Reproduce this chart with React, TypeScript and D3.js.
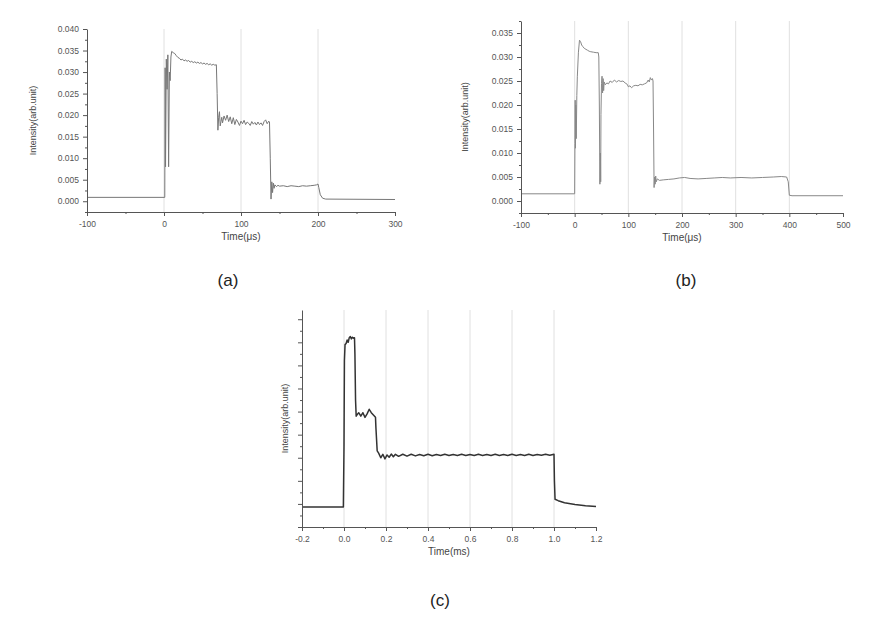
import * as d3 from "d3";
import { useEffect, useRef } from "react";

type Pt = [number, number];

// (a) intensity vs time (µs)
const seriesA: Pt[] = [
  [-100, 0.0009], [1, 0.0009], [1.5, 0.031], [2, 0.008], [3, 0.033], [4, 0.026],
  [5, 0.034], [6, 0.008], [7, 0.03], [8, 0.028], [9, 0.0335], [10, 0.0348],
  [12, 0.0345], [14, 0.0343], [16, 0.0338], [18, 0.0334], [20, 0.0332], [22, 0.0328],
  [24, 0.033], [26, 0.0326], [28, 0.0328], [30, 0.0325], [32, 0.0327], [34, 0.0323],
  [36, 0.0325], [38, 0.0322], [40, 0.0324], [42, 0.0321], [44, 0.0323], [46, 0.032],
  [48, 0.0322], [50, 0.0319], [52, 0.0321], [54, 0.0318], [56, 0.032], [58, 0.0317],
  [60, 0.0319], [62, 0.0316], [64, 0.0318], [66, 0.0316], [68, 0.0317],
  [69, 0.025], [70, 0.0165], [71, 0.0195], [72, 0.0208], [73, 0.0175], [74, 0.0185],
  [75, 0.0195], [76, 0.0182], [78, 0.0198], [80, 0.0188], [82, 0.02], [84, 0.0185],
  [86, 0.0196], [88, 0.018], [90, 0.0194], [92, 0.0178], [94, 0.019], [96, 0.0184],
  [98, 0.0176], [100, 0.0186], [102, 0.018], [104, 0.0188], [106, 0.0178], [108, 0.0184],
  [110, 0.0181], [112, 0.0176], [114, 0.0185], [116, 0.0179], [118, 0.0183], [120, 0.0177],
  [122, 0.0184], [124, 0.0178], [126, 0.0182], [128, 0.0176], [130, 0.0185], [132, 0.0189],
  [134, 0.018], [136, 0.0186], [137, 0.0184],
  [138, 0.01], [139, 0.0005], [140, 0.0045], [141, 0.002], [142, 0.0042], [143, 0.003],
  [144, 0.0038], [146, 0.0034], [148, 0.0037], [150, 0.0035], [155, 0.0036], [160, 0.0034],
  [165, 0.0036], [170, 0.0035], [175, 0.0034], [180, 0.0036], [185, 0.0035], [190, 0.0036],
  [195, 0.0037], [198, 0.0038], [200, 0.004], [201, 0.0032], [203, 0.0015], [206, 0.0007],
  [210, 0.0005], [300, 0.0004],
];

// (b) intensity vs time (µs)
const seriesB: Pt[] = [
  [-100, 0.0015], [0, 0.0015], [0.5, 0.012], [1, 0.021], [1.5, 0.011], [2, 0.02],
  [3, 0.013], [4, 0.022], [5, 0.026], [7, 0.031], [9, 0.0335], [11, 0.0332],
  [13, 0.0325], [15, 0.0322], [18, 0.0318], [21, 0.0316], [24, 0.0314], [27, 0.0312],
  [30, 0.0311], [35, 0.031], [40, 0.0309], [44, 0.0309], [45, 0.03], [46, 0.02],
  [47, 0.0035], [48, 0.01], [48.5, 0.004], [49, 0.018], [50, 0.0245], [51, 0.026],
  [52, 0.0225], [53, 0.0255], [54, 0.023], [55, 0.0248], [57, 0.0242], [60, 0.0246],
  [63, 0.0244], [66, 0.025], [70, 0.0247], [74, 0.0252], [78, 0.0248], [82, 0.0251],
  [86, 0.0249], [90, 0.025], [94, 0.0246], [98, 0.0243], [100, 0.0238], [103, 0.024],
  [106, 0.0236], [110, 0.024], [114, 0.0241], [118, 0.024], [122, 0.0243], [126, 0.0242],
  [130, 0.0244], [134, 0.0246], [137, 0.0252], [139, 0.0248], [141, 0.0257], [143, 0.0252],
  [145, 0.0255], [146, 0.025], [147, 0.015], [148, 0.0028], [149, 0.005], [150, 0.0035],
  [151, 0.0052], [152, 0.004], [154, 0.0046], [158, 0.0043], [165, 0.0044], [175, 0.0045],
  [185, 0.0046], [195, 0.0048], [205, 0.0049], [215, 0.0047], [230, 0.0046], [245, 0.0047],
  [260, 0.0048], [275, 0.0049], [290, 0.0048], [310, 0.0049], [330, 0.0048], [350, 0.0049],
  [370, 0.005], [385, 0.0051], [395, 0.005], [398, 0.004], [400, 0.0012], [405, 0.0011],
  [500, 0.0011],
];

// (c) intensity (unlabelled axis) vs time (ms)
const seriesC: Pt[] = [
  [-0.2, 0.87], [-0.003, 0.87], [-0.002, 1.8], [0, 3.5], [0.002, 7.2], [0.005, 7.9],
  [0.01, 7.95], [0.015, 8.1], [0.02, 8.0], [0.025, 8.2], [0.03, 8.25], [0.035, 8.15],
  [0.04, 8.22], [0.045, 8.18], [0.05, 8.2], [0.052, 7.5], [0.055, 5.5], [0.058, 4.8],
  [0.065, 4.9], [0.07, 4.95], [0.08, 4.8], [0.09, 4.95], [0.1, 4.75], [0.11, 4.9],
  [0.12, 5.1], [0.13, 4.95], [0.14, 4.85], [0.15, 4.75], [0.152, 4.3], [0.158, 3.3],
  [0.165, 3.2], [0.175, 3.0], [0.185, 3.15], [0.195, 2.95], [0.205, 3.12], [0.215, 3.02],
  [0.225, 3.16], [0.235, 3.04], [0.245, 3.15], [0.26, 3.06], [0.28, 3.15], [0.3, 3.07],
  [0.32, 3.15], [0.34, 3.08], [0.36, 3.14], [0.38, 3.09], [0.4, 3.15], [0.42, 3.09],
  [0.44, 3.14], [0.46, 3.1], [0.48, 3.15], [0.5, 3.1], [0.52, 3.14], [0.54, 3.1],
  [0.56, 3.15], [0.58, 3.1], [0.6, 3.14], [0.62, 3.1], [0.64, 3.15], [0.66, 3.1],
  [0.68, 3.14], [0.7, 3.1], [0.72, 3.15], [0.74, 3.1], [0.76, 3.14], [0.78, 3.1],
  [0.8, 3.15], [0.82, 3.1], [0.84, 3.14], [0.86, 3.1], [0.88, 3.15], [0.9, 3.1],
  [0.92, 3.14], [0.94, 3.11], [0.96, 3.15], [0.98, 3.11], [1.0, 3.15], [1.002, 2.0],
  [1.005, 1.2], [1.02, 1.14], [1.05, 1.05], [1.1, 0.97], [1.15, 0.92], [1.2, 0.89],
];

const xTicksA = [-100, 0, 100, 200, 300];
const xMinorA = [-50, 50, 150, 250];
const yTicksA = [0, 0.005, 0.01, 0.015, 0.02, 0.025, 0.03, 0.035, 0.04];
const yMinorA = [-0.0025, 0.0025, 0.0075, 0.0125, 0.0175, 0.0225, 0.0275, 0.0325, 0.0375];
const gridA = [0, 100, 200];

const xTicksB = [-100, 0, 100, 200, 300, 400, 500];
const xMinorB = [-50, 50, 150, 250, 350, 450];
const yTicksB = [0, 0.005, 0.01, 0.015, 0.02, 0.025, 0.03, 0.035];
const yMinorB = [-0.0025, 0.0025, 0.0075, 0.0125, 0.0175, 0.0225, 0.0275, 0.0325, 0.0375];
const gridB = [0, 100, 200, 300, 400];

const xTicksC = [-0.2, 0, 0.2, 0.4, 0.6, 0.8, 1.0, 1.2];
const xMinorC = [-0.1, 0.1, 0.3, 0.5, 0.7, 0.9, 1.1];
const yTicksC = [0, 1, 2, 3, 4, 5, 6, 7, 8, 9];
const yMinorC = [0.5, 1.5, 2.5, 3.5, 4.5, 5.5, 6.5, 7.5, 8.5];
const gridC = [0, 0.2, 0.4, 0.6, 0.8, 1.0];

interface Panel {
  left: number; right: number; top: number; bottom: number;
  xDomain: [number, number]; yDomain: [number, number];
  xTicks: number[]; xMinor: number[]; yTicks: number[]; yMinor: number[];
  grid: number[];
  xFormat: (v: number) => string;
  yFormat: ((v: number) => string) | null;
  xLabel: string;
  yLabelOffset: number;
  data: Pt[];
  stroke: string; strokeWidth: number;
  caption: string; captionX: number; captionY: number;
}

// plain hyphen minus, as in the original figure
const fmtInt = (v: number) => String(Math.round(v));
const fmt1 = (v: number) => v.toFixed(1);
const fmt3 = (v: number) => v.toFixed(3);

const panels: Panel[] = [
  {
    left: 87, right: 395, top: 29, bottom: 212,
    xDomain: [-100, 300], yDomain: [-0.0025, 0.04],
    xTicks: xTicksA, xMinor: xMinorA, yTicks: yTicksA, yMinor: yMinorA, grid: gridA,
    xFormat: fmtInt, yFormat: fmt3,
    xLabel: "Time(μs)", yLabelOffset: -54,
    data: seriesA, stroke: "#777", strokeWidth: 1,
    caption: "(a)", captionX: 228, captionY: 286,
  },
  {
    left: 521, right: 843, top: 21, bottom: 213,
    xDomain: [-100, 500], yDomain: [-0.0025, 0.0375],
    xTicks: xTicksB, xMinor: xMinorB, yTicks: yTicksB, yMinor: yMinorB, grid: gridB,
    xFormat: fmtInt, yFormat: fmt3,
    xLabel: "Time(μs)", yLabelOffset: -56,
    data: seriesB, stroke: "#888", strokeWidth: 1,
    caption: "(b)", captionX: 686, captionY: 286,
  },
  {
    left: 302, right: 596, top: 310, bottom: 527,
    xDomain: [-0.2, 1.2], yDomain: [0, 9.4],
    xTicks: xTicksC, xMinor: xMinorC, yTicks: yTicksC, yMinor: yMinorC, grid: gridC,
    xFormat: fmt1, yFormat: null,
    xLabel: "Time(ms)", yLabelOffset: -17,
    data: seriesC, stroke: "#333", strokeWidth: 1.5,
    caption: "(c)", captionX: 440, captionY: 606,
  },
];

const FONT = "'Liberation Sans', Arial, sans-serif";

export default function App() {
  const svgRef = useRef<SVGSVGElement>(null);

  useEffect(() => {
    if (!svgRef.current) return;
    const svg = d3.select(svgRef.current);
    svg.selectAll("*").remove();

    panels.forEach((p) => {
      const x = d3.scaleLinear().domain(p.xDomain).range([p.left, p.right]);
      const y = d3.scaleLinear().domain(p.yDomain).range([p.bottom, p.top]);
      const g = svg.append("g");

      // vertical grid lines
      g.selectAll(".grid")
        .data(p.grid)
        .enter()
        .append("line")
        .attr("x1", (d) => x(d))
        .attr("x2", (d) => x(d))
        .attr("y1", p.top)
        .attr("y2", p.bottom)
        .attr("stroke", "#e0e0e0")
        .attr("stroke-width", 1);

      // trace
      const line = d3
        .line<Pt>()
        .x((d) => x(d[0]))
        .y((d) => y(d[1]));
      g.append("path")
        .datum(p.data)
        .attr("fill", "none")
        .attr("stroke", p.stroke)
        .attr("stroke-width", p.strokeWidth)
        .attr("stroke-linejoin", "round")
        .attr("d", line);

      // x axis
      const xAxis = g
        .append("g")
        .attr("transform", `translate(0,${p.bottom})`)
        .call(
          d3.axisBottom(x)
            .tickValues(p.xTicks)
            .tickSize(4)
            .tickSizeOuter(0)
            .tickPadding(5)
            .tickFormat((d) => p.xFormat(d as number)),
        );
      g.append("g")
        .attr("transform", `translate(0,${p.bottom})`)
        .call(d3.axisBottom(x).tickValues(p.xMinor).tickSize(2).tickSizeOuter(0).tickFormat(() => ""))
        .select(".domain")
        .remove();

      // y axis
      const yAxis = g
        .append("g")
        .attr("transform", `translate(${p.left},0)`)
        .call(
          d3.axisLeft(y)
            .tickValues(p.yTicks)
            .tickSize(4)
            .tickSizeOuter(0)
            .tickPadding(4)
            .tickFormat((d) => (p.yFormat ? p.yFormat(d as number) : "")),
        );
      g.append("g")
        .attr("transform", `translate(${p.left},0)`)
        .call(d3.axisLeft(y).tickValues(p.yMinor).tickSize(2).tickSizeOuter(0).tickFormat(() => ""))
        .select(".domain")
        .remove();

      [xAxis, yAxis].forEach((a) => {
        a.select(".domain").attr("stroke", "#555");
        a.selectAll(".tick text")
          .attr("fill", "#555")
          .style("font-size", "8.5px")
          .style("font-family", FONT);
      });
      g.selectAll(".tick line").attr("stroke", "#555");

      // axis titles
      g.append("text")
        .attr("x", (p.left + p.right) / 2)
        .attr("y", p.bottom + 28)
        .attr("fill", "#444")
        .style("text-anchor", "middle")
        .style("font-size", "10px")
        .style("font-family", FONT)
        .text(p.xLabel);

      g.append("text")
        .attr("transform", `rotate(-90)`)
        .attr("x", -(p.top + p.bottom) / 2)
        .attr("y", p.left + p.yLabelOffset + 3)
        .attr("fill", "#444")
        .style("text-anchor", "middle")
        .style("font-size", "9px")
        .style("font-family", FONT)
        .text("Intensity(arb.unit)");

      // caption
      svg.append("text")
        .attr("x", p.captionX)
        .attr("y", p.captionY)
        .attr("fill", "#222")
        .style("text-anchor", "middle")
        .style("font-size", "17px")
        .style("font-family", FONT)
        .text(p.caption);
    });
  }, []);

  return (
    <svg
      ref={svgRef}
      width="890"
      height="618"
      style={{ position: "absolute", left: 0, top: 0, background: "#fff" }}
    />
  );
}
